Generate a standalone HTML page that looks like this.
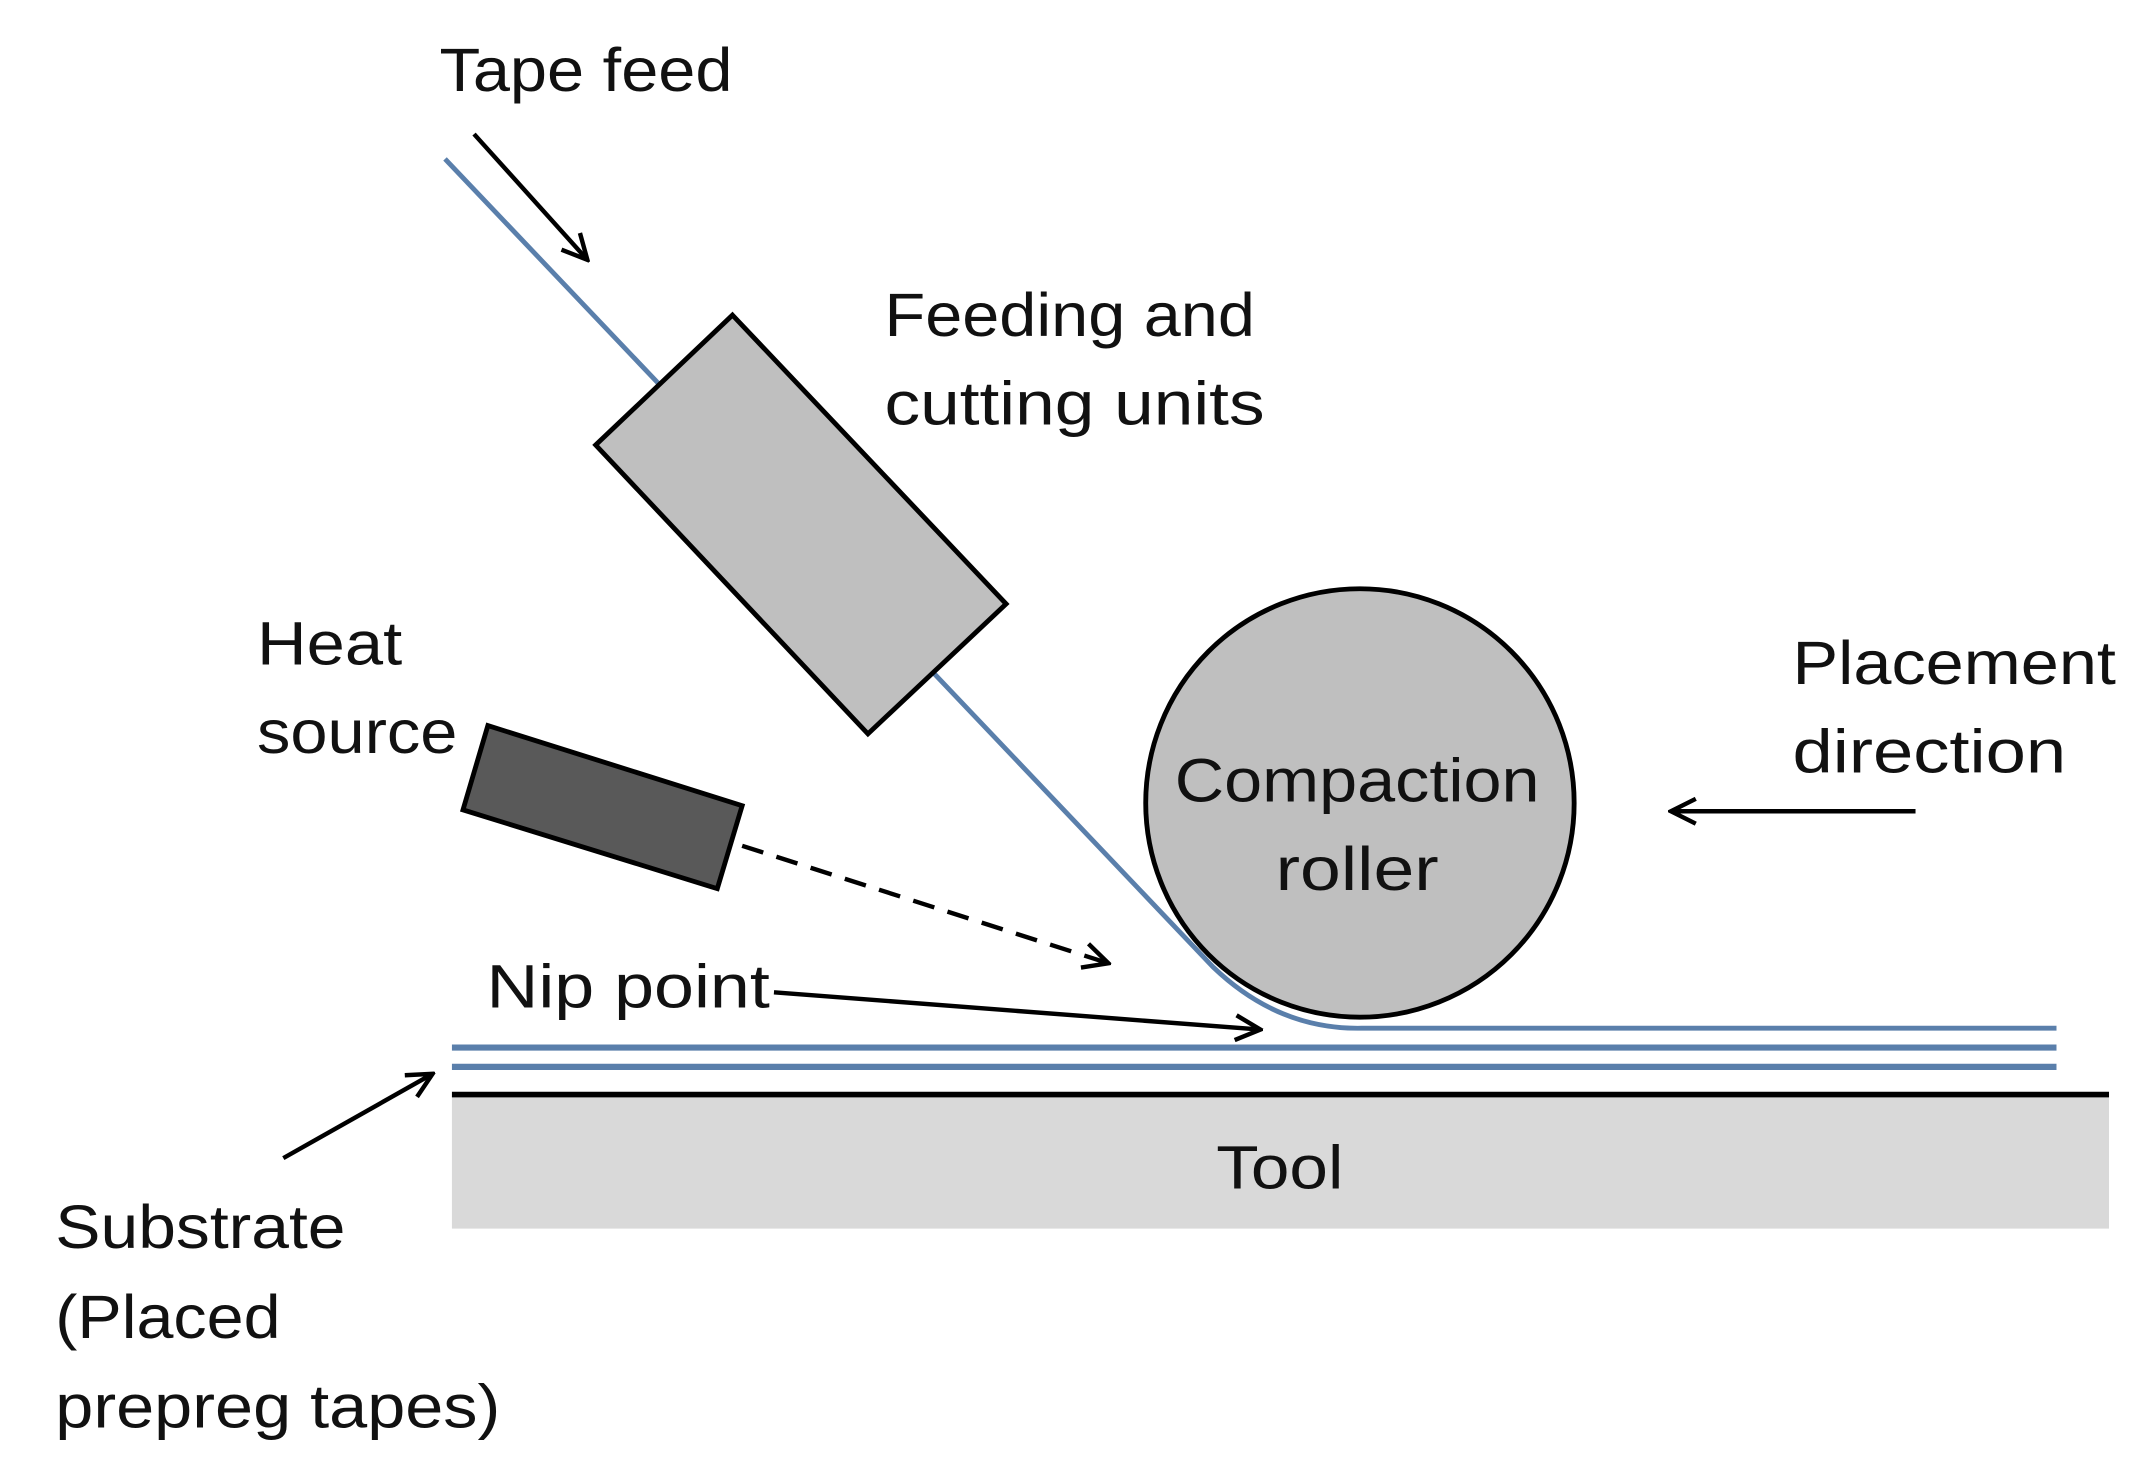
<!DOCTYPE html>
<html><head><meta charset="utf-8"><style>
html,body{margin:0;padding:0;background:#fff;}
svg{display:block;}
text{font-family:"Liberation Sans",sans-serif;font-size:44px;fill:#111;}
</style></head><body>
<svg width="2156" height="1476" viewBox="0 0 1560 1068" preserveAspectRatio="none" xmlns="http://www.w3.org/2000/svg">
<defs>
<marker id="ah" viewBox="0 0 22 22" refX="20" refY="11" markerWidth="22" markerHeight="22" markerUnits="userSpaceOnUse" orient="auto">
<path d="M2,2 L20,11 L2,20" fill="none" stroke="#000" stroke-width="3.2"/>
</marker>
</defs>
<rect width="1560" height="1068" fill="#fff"/>
<rect x="327" y="793" width="1199" height="96" fill="#d9d9d9"/>
<line x1="327" y1="792" x2="1526" y2="792" stroke="#000" stroke-width="4"/>
<line x1="327" y1="758" x2="1488" y2="758" stroke="#5a7fab" stroke-width="4.5"/>
<line x1="327" y1="772" x2="1488" y2="772" stroke="#5a7fab" stroke-width="4.5"/>
<circle cx="984" cy="581" r="155" fill="#bfbfbf" stroke="#000" stroke-width="3.5"/>
<path d="M322,115 L878,700 Q925,745 985,744 L1488,744" fill="none" stroke="#5a7fab" stroke-width="3.5"/>
<polygon points="530,228 728,437 628,531 431,322" fill="#bfbfbf" stroke="#000" stroke-width="3.5"/>
<polygon points="353,525 537,583 519,643 335,586" fill="#595959" stroke="#000" stroke-width="3.5"/>
<line x1="343" y1="97" x2="425" y2="188" stroke="#000" stroke-width="3.2" marker-end="url(#ah)"/>
<line x1="537" y1="612" x2="802" y2="697" stroke="#000" stroke-width="3.2" stroke-dasharray="16,10" marker-end="url(#ah)"/>
<line x1="1386" y1="587" x2="1209" y2="587" stroke="#000" stroke-width="3.2" marker-end="url(#ah)"/>
<line x1="560" y1="718" x2="912" y2="745" stroke="#000" stroke-width="3.2" marker-end="url(#ah)"/>
<line x1="205" y1="838" x2="313" y2="777" stroke="#000" stroke-width="3.2" marker-end="url(#ah)"/>
<text x="318" y="66" textLength="212" lengthAdjust="spacingAndGlyphs">Tape feed</text>
<text x="640" y="243" textLength="268" lengthAdjust="spacingAndGlyphs">Feeding and</text>
<text x="640" y="307" textLength="275" lengthAdjust="spacingAndGlyphs">cutting units</text>
<text x="186" y="481" textLength="105" lengthAdjust="spacingAndGlyphs">Heat</text>
<text x="186" y="545" textLength="145" lengthAdjust="spacingAndGlyphs">source</text>
<text x="850" y="580" textLength="264" lengthAdjust="spacingAndGlyphs">Compaction</text>
<text x="923" y="644" textLength="118" lengthAdjust="spacingAndGlyphs">roller</text>
<text x="1297" y="495" textLength="234" lengthAdjust="spacingAndGlyphs">Placement</text>
<text x="1297" y="559" textLength="198" lengthAdjust="spacingAndGlyphs">direction</text>
<text x="352" y="729" textLength="205" lengthAdjust="spacingAndGlyphs">Nip point</text>
<text x="880" y="860" textLength="92" lengthAdjust="spacingAndGlyphs">Tool</text>
<text x="40" y="903" textLength="210" lengthAdjust="spacingAndGlyphs">Substrate</text>
<text x="40" y="968" textLength="163" lengthAdjust="spacingAndGlyphs">(Placed</text>
<text x="40" y="1033" textLength="322" lengthAdjust="spacingAndGlyphs">prepreg tapes)</text>
</svg>
</body></html>
